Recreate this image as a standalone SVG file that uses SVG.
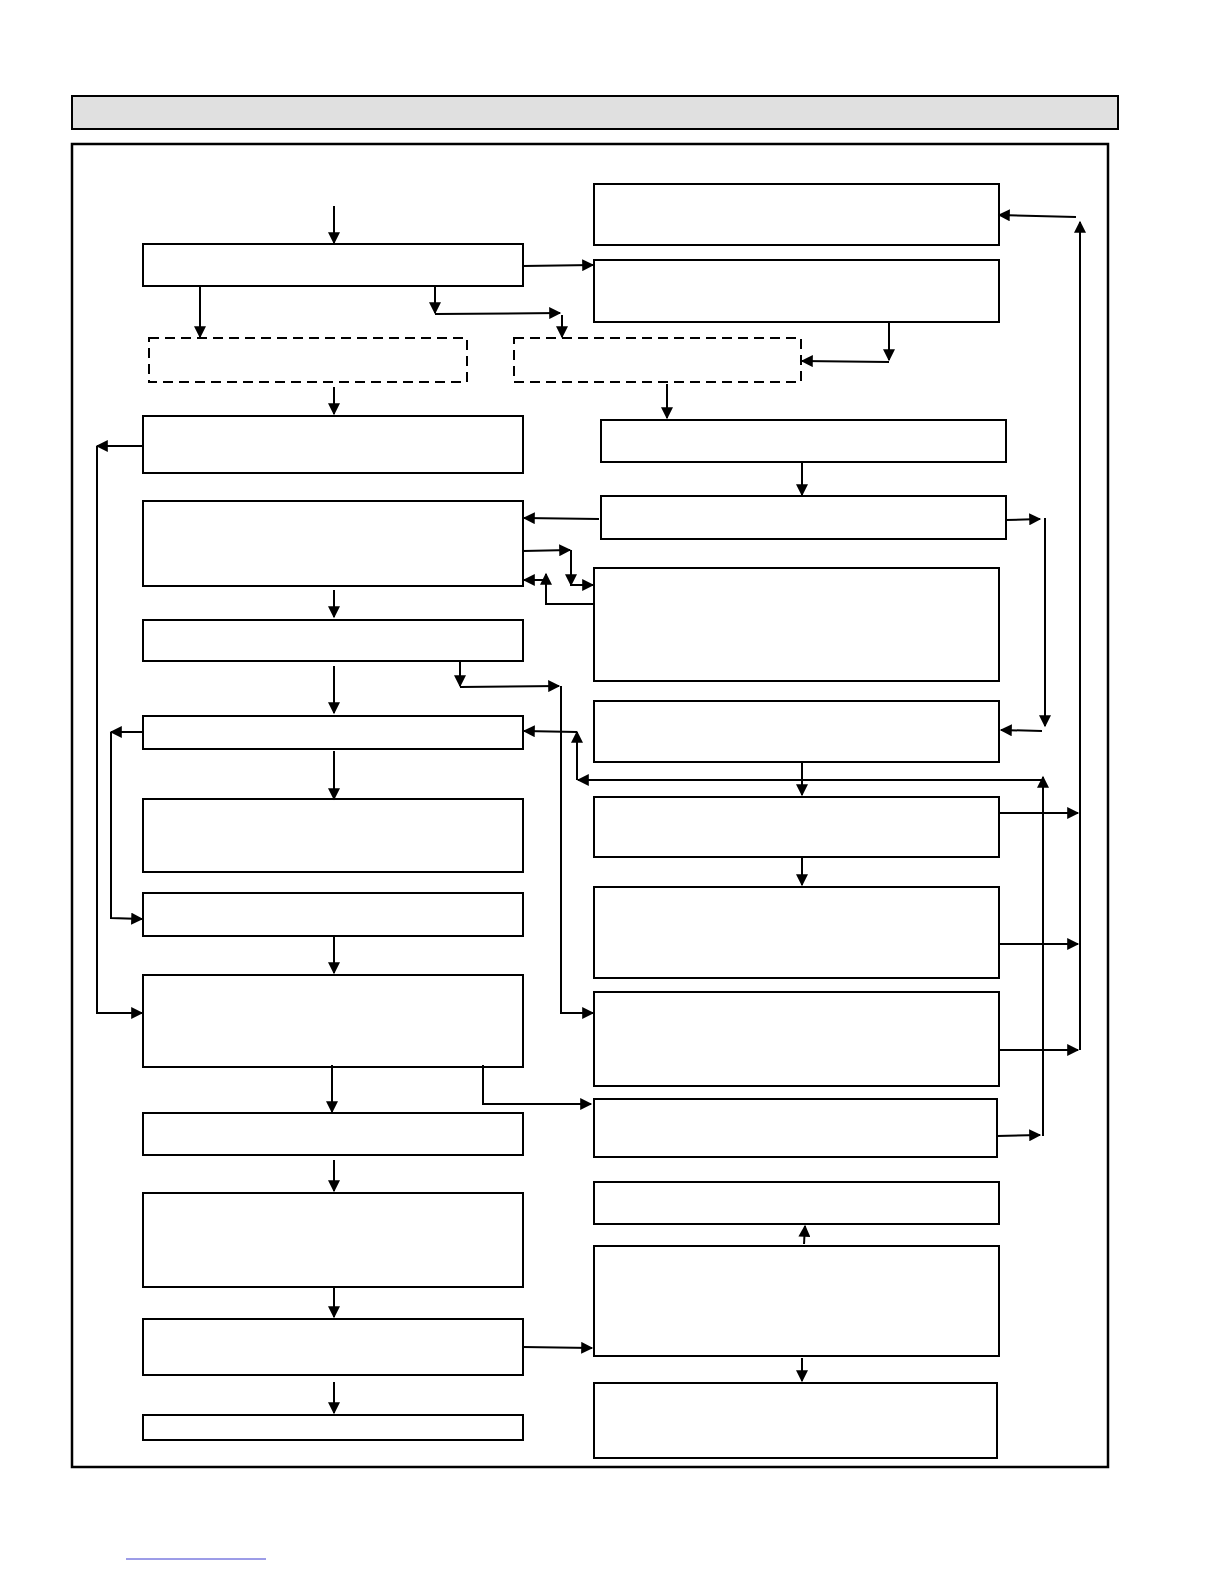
<svg xmlns="http://www.w3.org/2000/svg" width="1224" height="1584" viewBox="0 0 1224 1584">
<style>
.n{fill:#fff;stroke:#000;stroke-width:2}
.d{fill:#fff;stroke:#000;stroke-width:2;stroke-dasharray:10,6}
#c path{fill:none;stroke:#000;stroke-width:2}
</style>
<defs><marker id="a" viewBox="0 0 10 10" refX="9" refY="5" markerWidth="6.5" markerHeight="6" orient="auto"><path d="M0,0L10,5L0,10z" fill="#000"/></marker></defs>
<rect width="1224" height="1584" fill="#fff"/>
<rect x="72" y="96" width="1046" height="33" fill="#e0e0e0" stroke="#000" stroke-width="2"/>
<rect x="72" y="144" width="1036" height="1323" fill="none" stroke="#000" stroke-width="2.5"/>
<g id="L1"><rect class="n" x="143" y="244" width="380" height="42"/></g>
<g id="D1"><rect class="d" x="149" y="338" width="318" height="44"/></g>
<g id="L2"><rect class="n" x="143" y="416" width="380" height="57"/></g>
<g id="L3"><rect class="n" x="143" y="501" width="380" height="85"/></g>
<g id="L4"><rect class="n" x="143" y="620" width="380" height="41"/></g>
<g id="L5"><rect class="n" x="143" y="716" width="380" height="33"/></g>
<g id="L6"><rect class="n" x="143" y="799" width="380" height="73"/></g>
<g id="L7"><rect class="n" x="143" y="893" width="380" height="43"/></g>
<g id="L8"><rect class="n" x="143" y="975" width="380" height="92"/></g>
<g id="L9"><rect class="n" x="143" y="1113" width="380" height="42"/></g>
<g id="L10"><rect class="n" x="143" y="1193" width="380" height="94"/></g>
<g id="L11"><rect class="n" x="143" y="1319" width="380" height="56"/></g>
<g id="L12"><rect class="n" x="143" y="1415" width="380" height="25"/></g>
<g id="R1"><rect class="n" x="594" y="184" width="405" height="61"/></g>
<g id="R2"><rect class="n" x="594" y="260" width="405" height="62"/></g>
<g id="D2"><rect class="d" x="514" y="338" width="287" height="44"/></g>
<g id="R3"><rect class="n" x="601" y="420" width="405" height="42"/></g>
<g id="R4"><rect class="n" x="601" y="496" width="405" height="43"/></g>
<g id="R5"><rect class="n" x="594" y="568" width="405" height="113"/></g>
<g id="R6"><rect class="n" x="594" y="701" width="405" height="61"/></g>
<g id="R7"><rect class="n" x="594" y="797" width="405" height="60"/></g>
<g id="R8"><rect class="n" x="594" y="887" width="405" height="91"/></g>
<g id="R9"><rect class="n" x="594" y="992" width="405" height="94"/></g>
<g id="R10"><rect class="n" x="594" y="1099" width="403" height="58"/></g>
<g id="R11"><rect class="n" x="594" y="1182" width="405" height="42"/></g>
<g id="R12"><rect class="n" x="594" y="1246" width="405" height="110"/></g>
<g id="R13"><rect class="n" x="594" y="1383" width="403" height="75"/></g>
<g id="c">
<path d="M334,206V243" marker-end="url(#a)"/>
<path d="M523,266L593,265" marker-end="url(#a)"/>
<path d="M200,286V337" marker-end="url(#a)"/>
<path d="M435,286V313" marker-end="url(#a)"/>
<path d="M435,314L560,313" marker-end="url(#a)"/>
<path d="M562,315V337" marker-end="url(#a)"/>
<path d="M889,322V360" marker-end="url(#a)"/>
<path d="M889,362L802,361" marker-end="url(#a)"/>
<path d="M1076,217L999,215" marker-end="url(#a)"/>
<path d="M1080,1050V222" marker-end="url(#a)"/>
<path d="M334,387V414" marker-end="url(#a)"/>
<path d="M667,384V418" marker-end="url(#a)"/>
<path d="M143,446L97,446" marker-end="url(#a)"/>
<path d="M97,446V1013H142" marker-end="url(#a)"/>
<path d="M802,462V495" marker-end="url(#a)"/>
<path d="M599,519L524,518" marker-end="url(#a)"/>
<path d="M1006,520L1040,519" marker-end="url(#a)"/>
<path d="M1045,518V726" marker-end="url(#a)"/>
<path d="M1042,731L1001,730" marker-end="url(#a)"/>
<path d="M523,551L570,550" marker-end="url(#a)"/>
<path d="M571,550V585" marker-end="url(#a)"/>
<path d="M570,585H593" marker-end="url(#a)"/>
<path d="M593,604H546V574" marker-end="url(#a)"/>
<path d="M547,580H524" marker-end="url(#a)"/>
<path d="M334,590V617" marker-end="url(#a)"/>
<path d="M460,661V686" marker-end="url(#a)"/>
<path d="M460,687L559,686" marker-end="url(#a)"/>
<path d="M561,686V1013H593" marker-end="url(#a)"/>
<path d="M334,666V713" marker-end="url(#a)"/>
<path d="M577,732L524,731" marker-end="url(#a)"/>
<path d="M577,780V732" marker-end="url(#a)"/>
<path d="M1043,780L578,780" marker-end="url(#a)"/>
<path d="M1043,1136V777" marker-end="url(#a)"/>
<path d="M997,1136L1040,1135" marker-end="url(#a)"/>
<path d="M143,732L111,732" marker-end="url(#a)"/>
<path d="M111,732V918L142,919" marker-end="url(#a)"/>
<path d="M802,763V795" marker-end="url(#a)"/>
<path d="M334,751V799" marker-end="url(#a)"/>
<path d="M1000,813H1078" marker-end="url(#a)"/>
<path d="M802,857V885" marker-end="url(#a)"/>
<path d="M1000,944H1078" marker-end="url(#a)"/>
<path d="M1000,1050H1078" marker-end="url(#a)"/>
<path d="M334,937V973" marker-end="url(#a)"/>
<path d="M332,1065V1112" marker-end="url(#a)"/>
<path d="M483,1065V1104H591" marker-end="url(#a)"/>
<path d="M334,1160V1191" marker-end="url(#a)"/>
<path d="M804,1244L805,1226" marker-end="url(#a)"/>
<path d="M334,1288V1317" marker-end="url(#a)"/>
<path d="M523,1347L592,1348" marker-end="url(#a)"/>
<path d="M802,1358V1381" marker-end="url(#a)"/>
<path d="M334,1382V1413" marker-end="url(#a)"/>
</g>
<line x1="126" y1="1559" x2="266" y2="1559" stroke="#3a3ad0" stroke-width="1"/>
</svg>
